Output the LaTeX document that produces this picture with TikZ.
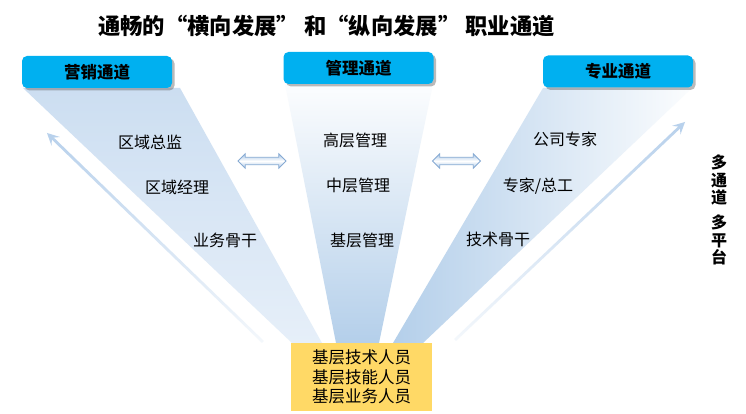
\documentclass[tikz,border=0pt]{standalone}
\usepackage{fontspec}
\setmainfont{Noto Sans CJK SC}
\usetikzlibrary{shapes.arrows,shadows,fadings,arrows.meta}
\definecolor{chcyan}{HTML}{00B0F0}
\definecolor{beamblue}{HTML}{B4CFEA}
\definecolor{beamlight}{HTML}{CCDEF1}
\definecolor{beampale}{HTML}{E6EFF9}
\definecolor{basey}{HTML}{FFD966}
\definecolor{arrline}{HTML}{B8D1EC}
\definecolor{dabord}{HTML}{86AAD3}
\definecolor{dafill}{HTML}{A9C5E5}
\tikzfading[name=fadeupward, top color=transparent!0, bottom color=transparent!85]
\tikzset{
  chbox/.style={rounded corners=5pt, fill=chcyan, minimum width=150pt, minimum height=32pt,
    inner sep=0pt, font=\fontsize{16.5}{18}\selectfont\bfseries,
    drop shadow={shadow xshift=2.5pt, shadow yshift=-2.5pt, opacity=0.45, fill=black!60}},
  lvl/.style={font=\fontsize{16}{18}\selectfont, inner sep=0pt},
  dbl/.style={double arrow, draw=dabord, line width=0.8pt, minimum height=48pt, minimum width=14pt,
    double arrow head extend=3.5pt, double arrow head indent=0pt, inner xsep=0pt, inner ysep=3.3pt,
    text height=0pt, text depth=0pt,
    top color=dafill, bottom color=dafill, middle color=white, shading angle=0},
  growarrow/.style={arrline, line width=2.8pt, path fading=fadeupward,
    -{Stealth[length=12pt,width=12pt,inset=5pt]}},
}
\begin{document}
\begin{tikzpicture}[x=1pt,y=-1pt]
\useasboundingbox (0,0) rectangle (746,414);
\fill[white] (0,0) rectangle (746,414);
% beams
\shade[top color=beamlight, middle color=beamblue, bottom color=beampale]
  (23,88) -- (180,88) -- (322,343) -- (292,343) -- cycle;
\shade[top color=white!96!beamblue, bottom color=beamblue]
  (285,84) -- (433,84) -- (379,343) -- (336,343) -- cycle;
\shade[left color=beamblue, right color=white!95!beamblue]
  (543,88) -- (692,88) -- (423,343) -- (393,343) -- cycle;
% growth arrows
\coordinate (la0) at (263,342);
\coordinate (la1) at (47,133);
\coordinate (ra0) at (455,340);
\coordinate (ra1) at (685,122);
\draw[growarrow] (la0) -- (la1);
\draw[growarrow] (ra0) -- (ra1);
% title
\node[font=\fontsize{22.3}{26}\selectfont\bfseries] (title) at (326.5,26) {通畅的“横向发展”\ 和“纵向发展”\ 职业通道};
% channel boxes
\node[chbox] (mkt) at (97,72) {营销通道};
\node[chbox] (mgt) at (358.5,68) {管理通道};
\node[chbox] (pro) at (618,71.5) {专业通道};
% levels
\node[lvl] (m1) at (150,142) {区域总监};
\node[lvl] (m2) at (177,187) {区域经理};
\node[lvl] (m3) at (225,240) {业务骨干};
\node[lvl] (g1) at (355,140) {高层管理};
\node[lvl] (g2) at (358,185) {中层管理};
\node[lvl] (g3) at (362,240) {基层管理};
\node[lvl] (p1) at (565,139) {公司专家};
\node[lvl] (p2) at (538,186) {专家/总工};
\node[lvl] (p3) at (498,239) {技术骨干};
% double arrows
\node[dbl] (da1) at (262,161) {};
\node[dbl] (da2) at (456.5,161) {};
% base box
\node[fill=basey, minimum width=141pt, minimum height=68pt, inner sep=0pt, align=center,
  font=\fontsize{16.5}{19.5}\selectfont] (base) at (361.5,377) {基层技术人员\\基层技能人员\\基层业务人员};
% side label
\node[font=\fontsize{16}{17.5}\selectfont\bfseries, align=center, inner sep=0pt] (side1) at (719,180) {多\\通\\道};
\node[font=\fontsize{16}{17.5}\selectfont\bfseries, align=center, inner sep=0pt] (side2) at (719,240) {多\\平\\台};
\end{tikzpicture}
\end{document}
